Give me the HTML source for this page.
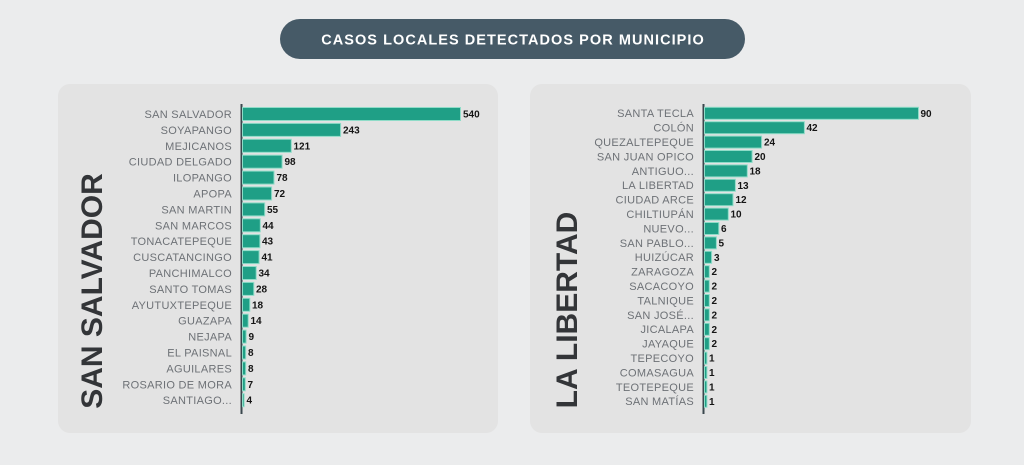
<!DOCTYPE html>
<html><head><meta charset="utf-8"><style>
html,body{margin:0;padding:0;background:#ebeced;}
svg{display:block;}
text{font-family:"Liberation Sans",sans-serif;}
.l{font-size:11px;fill:#6d7176;text-anchor:end;letter-spacing:0.3px;}
.v{font-size:10px;font-weight:bold;fill:#151515;}
</style></head><body>
<svg width="1024" height="465" viewBox="0 0 1024 465" xmlns="http://www.w3.org/2000/svg">
<rect x="0" y="0" width="1024" height="465" fill="#ebeced"/>
<rect x="280" y="19" width="465" height="40" rx="20" fill="#465a67"/>
<text x="513" y="44.5" text-anchor="middle" style="font-size:14.5px;font-weight:bold;fill:#ffffff;letter-spacing:1.05px">CASOS LOCALES DETECTADOS POR MUNICIPIO</text>
<rect x="58" y="84" width="440" height="349" rx="12" fill="#e3e3e3"/>
<rect x="530" y="84" width="441" height="349" rx="12" fill="#e3e3e3"/>
<text transform="translate(102,291) rotate(-90)" text-anchor="middle" style="font-size:30px;font-weight:bold;fill:#333538">SAN SALVADOR</text>
<text transform="translate(577,310) rotate(-90)" text-anchor="middle" style="font-size:30px;font-weight:bold;fill:#333538">LA LIBERTAD</text>
<line x1="241.5" y1="104" x2="241.5" y2="414" stroke="#3a474d" stroke-width="2"/>
<line x1="703.5" y1="104" x2="703.5" y2="414" stroke="#3a474d" stroke-width="2"/>
<!-- LEFT -->
<g>
<rect x="242.5" y="107.5" width="218" height="13" fill="#1f9f86" stroke="#8fdcc8" stroke-width="1"/><text class="l" x="232" y="118">SAN SALVADOR</text><text class="v" x="463" y="117.5">540</text>
<rect x="242.5" y="123.4" width="98.1" height="13" fill="#1f9f86" stroke="#8fdcc8" stroke-width="1"/><text class="l" x="232" y="133.9">SOYAPANGO</text><text class="v" x="343" y="133.4">243</text>
<rect x="242.5" y="139.3" width="48.8" height="13" fill="#1f9f86" stroke="#8fdcc8" stroke-width="1"/><text class="l" x="232" y="149.8">MEJICANOS</text><text class="v" x="293.5" y="149.3">121</text>
<rect x="242.5" y="155.2" width="39.6" height="13" fill="#1f9f86" stroke="#8fdcc8" stroke-width="1"/><text class="l" x="232" y="165.7">CIUDAD DELGADO</text><text class="v" x="284.5" y="165.2">98</text>
<rect x="242.5" y="171.1" width="31.5" height="13" fill="#1f9f86" stroke="#8fdcc8" stroke-width="1"/><text class="l" x="232" y="181.6">ILOPANGO</text><text class="v" x="276.5" y="181.1">78</text>
<rect x="242.5" y="187.0" width="29.1" height="13" fill="#1f9f86" stroke="#8fdcc8" stroke-width="1"/><text class="l" x="232" y="197.5">APOPA</text><text class="v" x="274" y="197">72</text>
<rect x="242.5" y="202.9" width="22.2" height="13" fill="#1f9f86" stroke="#8fdcc8" stroke-width="1"/><text class="l" x="232" y="213.4">SAN MARTIN</text><text class="v" x="267" y="212.9">55</text>
<rect x="242.5" y="218.8" width="17.8" height="13" fill="#1f9f86" stroke="#8fdcc8" stroke-width="1"/><text class="l" x="232" y="229.3">SAN MARCOS</text><text class="v" x="262.5" y="228.8">44</text>
<rect x="242.5" y="234.7" width="17.4" height="13" fill="#1f9f86" stroke="#8fdcc8" stroke-width="1"/><text class="l" x="232" y="245.2">TONACATEPEQUE</text><text class="v" x="262" y="244.7">43</text>
<rect x="242.5" y="250.6" width="16.6" height="13" fill="#1f9f86" stroke="#8fdcc8" stroke-width="1"/><text class="l" x="232" y="261.1">CUSCATANCINGO</text><text class="v" x="261.5" y="260.6">41</text>
<rect x="242.5" y="266.5" width="13.7" height="13" fill="#1f9f86" stroke="#8fdcc8" stroke-width="1"/><text class="l" x="232" y="277">PANCHIMALCO</text><text class="v" x="258.5" y="276.5">34</text>
<rect x="242.5" y="282.4" width="11.3" height="13" fill="#1f9f86" stroke="#8fdcc8" stroke-width="1"/><text class="l" x="232" y="292.9">SANTO TOMAS</text><text class="v" x="256" y="292.4">28</text>
<rect x="242.5" y="298.3" width="7.3" height="13" fill="#1f9f86" stroke="#8fdcc8" stroke-width="1"/><text class="l" x="232" y="308.8">AYUTUXTEPEQUE</text><text class="v" x="252" y="308.3">18</text>
<rect x="242.5" y="314.2" width="5.7" height="13" fill="#1f9f86" stroke="#8fdcc8" stroke-width="1"/><text class="l" x="232" y="324.7">GUAZAPA</text><text class="v" x="250.5" y="324.2">14</text>
<rect x="242.5" y="330.1" width="3.6" height="13" fill="#1f9f86" stroke="#8fdcc8" stroke-width="1"/><text class="l" x="232" y="340.6">NEJAPA</text><text class="v" x="248.5" y="340.1">9</text>
<rect x="242.5" y="346.0" width="3.2" height="13" fill="#1f9f86" stroke="#8fdcc8" stroke-width="1"/><text class="l" x="232" y="356.5">EL PAISNAL</text><text class="v" x="248" y="356">8</text>
<rect x="242.5" y="361.9" width="3.2" height="13" fill="#1f9f86" stroke="#8fdcc8" stroke-width="1"/><text class="l" x="232" y="372.4">AGUILARES</text><text class="v" x="248" y="371.9">8</text>
<rect x="242.5" y="377.8" width="2.8" height="13" fill="#1f9f86" stroke="#8fdcc8" stroke-width="1"/><text class="l" x="232" y="388.3">ROSARIO DE MORA</text><text class="v" x="247.5" y="387.8">7</text>
<rect x="242.5" y="393.7" width="1.6" height="13" fill="#1f9f86" stroke="#8fdcc8" stroke-width="1"/><text class="l" x="232" y="404.2">SANTIAGO...</text><text class="v" x="246.5" y="403.7">4</text>
</g>
<!-- RIGHT -->
<g>
<rect x="704.5" y="107.3" width="214" height="12" fill="#1f9f86" stroke="#8fdcc8" stroke-width="1"/><text class="l" x="694" y="117.2">SANTA TECLA</text><text class="v" x="920.5" y="116.8">90</text>
<rect x="704.5" y="121.7" width="99.9" height="12" fill="#1f9f86" stroke="#8fdcc8" stroke-width="1"/><text class="l" x="694" y="131.6">COLÓN</text><text class="v" x="806.5" y="131.2">42</text>
<rect x="704.5" y="136.1" width="57.1" height="12" fill="#1f9f86" stroke="#8fdcc8" stroke-width="1"/><text class="l" x="694" y="146">QUEZALTEPEQUE</text><text class="v" x="764" y="145.6">24</text>
<rect x="704.5" y="150.5" width="47.6" height="12" fill="#1f9f86" stroke="#8fdcc8" stroke-width="1"/><text class="l" x="694" y="160.4">SAN JUAN OPICO</text><text class="v" x="754.5" y="160">20</text>
<rect x="704.5" y="164.9" width="42.8" height="12" fill="#1f9f86" stroke="#8fdcc8" stroke-width="1"/><text class="l" x="694" y="174.8">ANTIGUO...</text><text class="v" x="749.5" y="174.4">18</text>
<rect x="704.5" y="179.3" width="30.9" height="12" fill="#1f9f86" stroke="#8fdcc8" stroke-width="1"/><text class="l" x="694" y="189.2">LA LIBERTAD</text><text class="v" x="737.5" y="188.8">13</text>
<rect x="704.5" y="193.7" width="28.5" height="12" fill="#1f9f86" stroke="#8fdcc8" stroke-width="1"/><text class="l" x="694" y="203.6">CIUDAD ARCE</text><text class="v" x="735.5" y="203.2">12</text>
<rect x="704.5" y="208.1" width="23.8" height="12" fill="#1f9f86" stroke="#8fdcc8" stroke-width="1"/><text class="l" x="694" y="218">CHILTIUPÁN</text><text class="v" x="730.5" y="217.6">10</text>
<rect x="704.5" y="222.5" width="14.3" height="12" fill="#1f9f86" stroke="#8fdcc8" stroke-width="1"/><text class="l" x="694" y="232.4">NUEVO...</text><text class="v" x="721" y="232">6</text>
<rect x="704.5" y="236.9" width="11.9" height="12" fill="#1f9f86" stroke="#8fdcc8" stroke-width="1"/><text class="l" x="694" y="246.8">SAN PABLO...</text><text class="v" x="718.5" y="246.4">5</text>
<rect x="704.5" y="251.3" width="7.1" height="12" fill="#1f9f86" stroke="#8fdcc8" stroke-width="1"/><text class="l" x="694" y="261.2">HUIZÚCAR</text><text class="v" x="714" y="260.8">3</text>
<rect x="704.5" y="265.7" width="4.8" height="12" fill="#1f9f86" stroke="#8fdcc8" stroke-width="1"/><text class="l" x="694" y="275.6">ZARAGOZA</text><text class="v" x="711.5" y="275.2">2</text>
<rect x="704.5" y="280.1" width="4.8" height="12" fill="#1f9f86" stroke="#8fdcc8" stroke-width="1"/><text class="l" x="694" y="290">SACACOYO</text><text class="v" x="711.5" y="289.6">2</text>
<rect x="704.5" y="294.5" width="4.8" height="12" fill="#1f9f86" stroke="#8fdcc8" stroke-width="1"/><text class="l" x="694" y="304.4">TALNIQUE</text><text class="v" x="711.5" y="304">2</text>
<rect x="704.5" y="308.9" width="4.8" height="12" fill="#1f9f86" stroke="#8fdcc8" stroke-width="1"/><text class="l" x="694" y="318.8">SAN JOSÉ...</text><text class="v" x="711.5" y="318.4">2</text>
<rect x="704.5" y="323.3" width="4.8" height="12" fill="#1f9f86" stroke="#8fdcc8" stroke-width="1"/><text class="l" x="694" y="333.2">JICALAPA</text><text class="v" x="711.5" y="332.8">2</text>
<rect x="704.5" y="337.7" width="4.8" height="12" fill="#1f9f86" stroke="#8fdcc8" stroke-width="1"/><text class="l" x="694" y="347.6">JAYAQUE</text><text class="v" x="711.5" y="347.2">2</text>
<rect x="704.5" y="352.1" width="2.4" height="12" fill="#1f9f86" stroke="#8fdcc8" stroke-width="1"/><text class="l" x="694" y="362">TEPECOYO</text><text class="v" x="709" y="361.6">1</text>
<rect x="704.5" y="366.5" width="2.4" height="12" fill="#1f9f86" stroke="#8fdcc8" stroke-width="1"/><text class="l" x="694" y="376.4">COMASAGUA</text><text class="v" x="709" y="376">1</text>
<rect x="704.5" y="380.9" width="2.4" height="12" fill="#1f9f86" stroke="#8fdcc8" stroke-width="1"/><text class="l" x="694" y="390.8">TEOTEPEQUE</text><text class="v" x="709" y="390.4">1</text>
<rect x="704.5" y="395.3" width="2.4" height="12" fill="#1f9f86" stroke="#8fdcc8" stroke-width="1"/><text class="l" x="694" y="405.2">SAN MATÍAS</text><text class="v" x="709" y="404.8">1</text>
</g>
</svg>
</body></html>
